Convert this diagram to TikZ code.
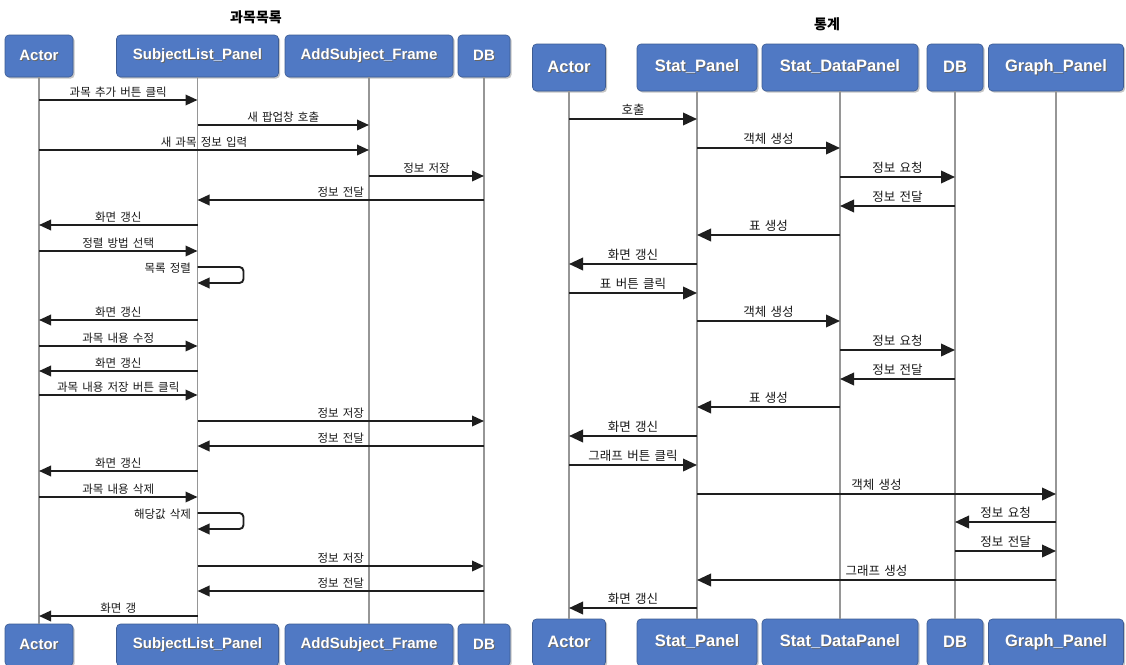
\documentclass[tikz,border=0pt]{standalone}
\usepackage{fontspec}
\setsansfont{Liberation Sans}
\newfontfamily\kr{Noto Sans CJK KR}[WordSpace=1.6]
\usetikzlibrary{arrows.meta,shadows}
\definecolor{boxblue}{RGB}{80,121,196}
\definecolor{msgline}{RGB}{30,30,30}
\definecolor{lifegray}{RGB}{150,150,150}
\newcommand\boxlabel[1]{\makebox[0pt][l]{\hspace{1pt}\raisebox{-1pt}{\color{black!60}#1}}{\color{white}#1}}

\begin{document}
\begin{tikzpicture}[
                x=1pt, y=-1pt,
                pbox/.style={rectangle, rounded corners=4pt, fill=boxblue, draw=boxblue!75!black, line width=0.6pt,
                    drop shadow={opacity=0.45, shadow xshift=1.6pt, shadow yshift=-1.6pt},
                    inner sep=0pt, minimum height=42, font=\sffamily\bfseries\fontsize{15}{18}\selectfont},
                pbox2/.style={pbox, minimum height=47, font=\sffamily\bfseries\fontsize{16.5}{20}\selectfont},
                life/.style={draw=lifegray, line width=1.4pt},
                msg/.style={draw=msgline, line width=1.9pt, -{Triangle[length=12pt,width=10.5pt]}},
                msg2/.style={draw=msgline, line width=2.1pt, -{Triangle[length=14pt,width=12.5pt]}},
                lbl/.style={above, inner sep=2pt, text=black!90, font=\kr\fontsize{11.5}{13}\selectfont},
                lbl2/.style={above, inner sep=2.5pt, text=black!90, font=\kr\fontsize{12.5}{14}\selectfont},
                title/.style={font=\kr\bfseries\fontsize{14}{16}\selectfont}
            ]
                \path[use as bounding box, fill=white] (0,0) rectangle (1126,664);

                % left: subject list
                \node [title] (t1) at (256,17) {과목목록};
                \node [pbox, minimum width=68] (ac1) at (39,56) {\boxlabel{Actor}};
                \node [pbox, minimum width=162] (sl) at (197.5,56) {\boxlabel{SubjectList\_Panel}};
                \node [pbox, minimum width=168] (asf) at (369,56) {\boxlabel{AddSubject\_Frame}};
                \node [pbox, minimum width=52] (db1) at (484,56) {\boxlabel{DB}};
                \node [pbox, minimum width=68] (ac1b) at (39,645) {\boxlabel{Actor}};
                \node [pbox, minimum width=162] (slb) at (197.5,645) {\boxlabel{SubjectList\_Panel}};
                \node [pbox, minimum width=168] (asfb) at (369,645) {\boxlabel{AddSubject\_Frame}};
                \node [pbox, minimum width=52] (db1b) at (484,645) {\boxlabel{DB}};

                \draw [life] (ac1.south) -- (ac1b.north);
                \draw [life] (sl.south) -- (slb.north);
                \draw [life] (asf.south) -- (asfb.north);
                \draw [life] (db1.south) -- (db1b.north);

                \draw [msg] (ac1 |- 0,100) -- node [lbl] {과목 추가 버튼 클릭} (sl |- 0,100);
                \draw [msg] (sl |- 0,125) -- node [lbl] {새 팝업창 호출} (asf |- 0,125);
                \draw [msg] (ac1 |- 0,150) -- node [lbl] {새 과목 정보 입력} (asf |- 0,150);
                \draw [msg] (asf |- 0,176) -- node [lbl] {정보 저장} (db1 |- 0,176);
                \draw [msg] (db1 |- 0,200) -- node [lbl] {정보 전달} (sl |- 0,200);
                \draw [msg] (sl |- 0,225) -- node [lbl] {화면 갱신} (ac1 |- 0,225);
                \draw [msg] (ac1 |- 0,251) -- node [lbl] {정렬 방법 선택} (sl |- 0,251);
                \draw [msg, rounded corners=4pt] (sl |- 0,267)
                    node [lbl, anchor=east, xshift=-3.5pt, yshift=-1pt] {목록 정렬}
                    -- ++(46,0) -- ++(0,16) -- (sl |- 0,283);
                \draw [msg] (sl |- 0,320) -- node [lbl] {화면 갱신} (ac1 |- 0,320);
                \draw [msg] (ac1 |- 0,346) -- node [lbl] {과목 내용 수정} (sl |- 0,346);
                \draw [msg] (sl |- 0,371) -- node [lbl] {화면 갱신} (ac1 |- 0,371);
                \draw [msg] (ac1 |- 0,395) -- node [lbl] {과목 내용 저장 버튼 클릭} (sl |- 0,395);
                \draw [msg] (sl |- 0,421) -- node [lbl] {정보 저장} (db1 |- 0,421);
                \draw [msg] (db1 |- 0,446) -- node [lbl] {정보 전달} (sl |- 0,446);
                \draw [msg] (sl |- 0,471) -- node [lbl] {화면 갱신} (ac1 |- 0,471);
                \draw [msg] (ac1 |- 0,497) -- node [lbl] {과목 내용 삭제} (sl |- 0,497);
                \draw [msg, rounded corners=4pt] (sl |- 0,513)
                    node [lbl, anchor=east, xshift=-3.5pt, yshift=-1pt] {해당값 삭제}
                    -- ++(46,0) -- ++(0,16) -- (sl |- 0,529);
                \draw [msg] (sl |- 0,566) -- node [lbl] {정보 저장} (db1 |- 0,566);
                \draw [msg] (db1 |- 0,591) -- node [lbl] {정보 전달} (sl |- 0,591);
                \draw [msg] (sl |- 0,616) -- node [lbl] {화면 갱} (ac1 |- 0,616);

                % right: statistics
                \node [title] (t2) at (827,24) {통계};
                \node [pbox2, minimum width=73] (ac2) at (569,67.5) {\boxlabel{Actor}};
                \node [pbox2, minimum width=120] (sp) at (697,67.5) {\boxlabel{Stat\_Panel}};
                \node [pbox2, minimum width=156] (sdp) at (840,67.5) {\boxlabel{Stat\_DataPanel}};
                \node [pbox2, minimum width=56] (db2) at (955,67.5) {\boxlabel{DB}};
                \node [pbox2, minimum width=135] (gp) at (1056,67.5) {\boxlabel{Graph\_Panel}};
                \node [pbox2, minimum width=73] (ac2b) at (569,642.5) {\boxlabel{Actor}};
                \node [pbox2, minimum width=120] (spb) at (697,642.5) {\boxlabel{Stat\_Panel}};
                \node [pbox2, minimum width=156] (sdpb) at (840,642.5) {\boxlabel{Stat\_DataPanel}};
                \node [pbox2, minimum width=56] (db2b) at (955,642.5) {\boxlabel{DB}};
                \node [pbox2, minimum width=135] (gpb) at (1056,642.5) {\boxlabel{Graph\_Panel}};

                \draw [life] (ac2.south) -- (ac2b.north);
                \draw [life] (sp.south) -- (spb.north);
                \draw [life] (sdp.south) -- (sdpb.north);
                \draw [life] (db2.south) -- (db2b.north);
                \draw [life] (gp.south) -- (gpb.north);

                \draw [msg2] (ac2 |- 0,119) -- node [lbl2] {호출} (sp |- 0,119);
                \draw [msg2] (sp |- 0,148) -- node [lbl2] {객체 생성} (sdp |- 0,148);
                \draw [msg2] (sdp |- 0,177) -- node [lbl2] {정보 요청} (db2 |- 0,177);
                \draw [msg2] (db2 |- 0,206) -- node [lbl2] {정보 전달} (sdp |- 0,206);
                \draw [msg2] (sdp |- 0,235) -- node [lbl2] {표 생성} (sp |- 0,235);
                \draw [msg2] (sp |- 0,264) -- node [lbl2] {화면 갱신} (ac2 |- 0,264);
                \draw [msg2] (ac2 |- 0,293) -- node [lbl2] {표 버튼 클릭} (sp |- 0,293);
                \draw [msg2] (sp |- 0,321) -- node [lbl2] {객체 생성} (sdp |- 0,321);
                \draw [msg2] (sdp |- 0,350) -- node [lbl2] {정보 요청} (db2 |- 0,350);
                \draw [msg2] (db2 |- 0,379) -- node [lbl2] {정보 전달} (sdp |- 0,379);
                \draw [msg2] (sdp |- 0,407) -- node [lbl2] {표 생성} (sp |- 0,407);
                \draw [msg2] (sp |- 0,436) -- node [lbl2] {화면 갱신} (ac2 |- 0,436);
                \draw [msg2] (ac2 |- 0,465) -- node [lbl2] {그래프 버튼 클릭} (sp |- 0,465);
                \draw [msg2] (sp |- 0,494) -- node [lbl2] {객체 생성} (gp |- 0,494);
                \draw [msg2] (gp |- 0,522) -- node [lbl2] {정보 요청} (db2 |- 0,522);
                \draw [msg2] (db2 |- 0,551) -- node [lbl2] {정보 전달} (gp |- 0,551);
                \draw [msg2] (gp |- 0,580) -- node [lbl2] {그래프 생성} (sp |- 0,580);
                \draw [msg2] (sp |- 0,608) -- node [lbl2] {화면 갱신} (ac2 |- 0,608);
            \end{tikzpicture}
\end{document}
